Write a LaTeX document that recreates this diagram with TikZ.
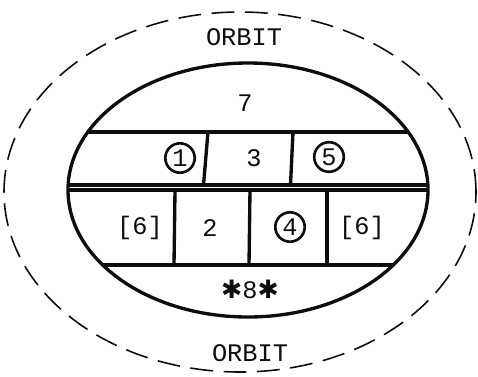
\documentclass[tikz,border=0pt]{standalone}
\usepackage{fontspec}
\setmonofont{Liberation Mono}
\newfontfamily\starfont{DejaVu Sans}
\definecolor{InkClr}{rgb}{0.05,0.05,0.05}

\tikzset{
  lbl/.style={font=\fontsize{14.4}{16}\ttfamily,text=InkClr},
  ring/.style={lbl,draw=InkClr,line width=1.5pt,circle,inner sep=1.4pt},
  wall/.style={line width=1.9pt,color=InkClr},
  orbitline/.style={line width=0.9pt,color=InkClr,dash pattern=on 13pt off 6pt}
}

\begin{document}
\begin{tikzpicture}
\useasboundingbox (0,0) rectangle (9.56,7.52);

\coordinate (O) at (4.8,3.68);
\coordinate (S) at (4.96,3.72);

% orbit
\draw[orbitline] (O) ellipse [x radius=4.72,y radius=3.6];

% decks
\begin{scope}
\clip (S) ellipse [x radius=3.6,y radius=2.54];
\draw[wall] (0,4.88) -- (10,4.88);
\draw[wall] (0,3.82) -- (10,3.82);
\draw[wall] (0,3.72) -- (10,3.72);
\draw[wall] (0,2.22) -- (10,2.22);
\end{scope}
\draw[wall] (S) ellipse [x radius=3.6,y radius=2.54];

\draw[wall] (4.16,4.88) -- (4.07,3.82);
\draw[wall] (5.86,4.88) -- (5.81,3.82);
\draw[wall] (3.50,3.72) -- (3.48,2.22);
\draw[wall] (5.00,3.72) -- (4.98,2.22);
\draw[wall] (6.54,3.72) -- (6.54,2.22);

% labels
\node[lbl] (orbitT) at (4.88,6.78) {ORBIT};
\node[lbl] (orbitB) at (5.00,0.46) {ORBIT};
\node[lbl] (m7) at (4.90,5.46) {7};
\node[ring] (m1) at (3.60,4.36) {1};
\node[lbl] (m3) at (5.08,4.36) {3};
\node[ring] (m5) at (6.58,4.38) {5};
\node[lbl] (m6a) at (2.80,2.96) {[6]};
\node[lbl] (m2) at (4.20,2.96) {2};
\node[ring] (m4) at (5.80,2.98) {4};
\node[lbl] (m6b) at (7.24,2.96) {[6]};
\node[lbl] (m8) at (5.00,1.74) {{\starfont ✱}8{\starfont ✱}};

\end{tikzpicture}
\end{document}
